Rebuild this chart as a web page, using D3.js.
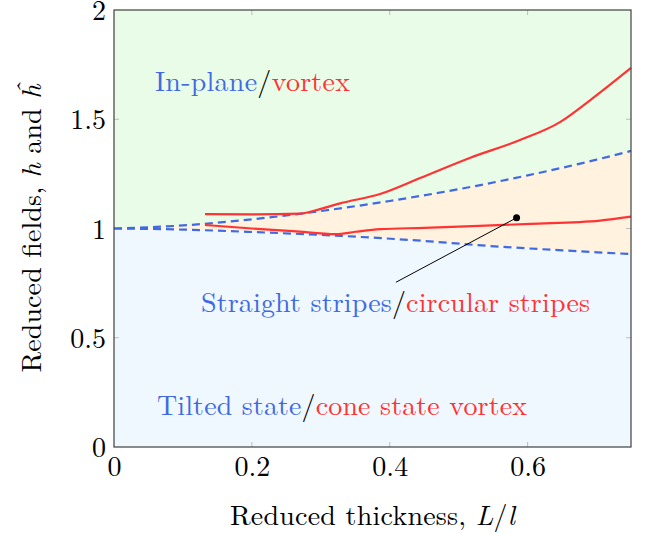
<!DOCTYPE html>
<html>
<head>
<meta charset="utf-8">
<script src="https://cdn.jsdelivr.net/npm/d3@7"></script>
<style>
  html, body { margin: 0; padding: 0; background: #fff; }
  svg text { font-family: "Latin Modern Roman", "CMU Serif", "Liberation Serif", "Times New Roman", serif; }
</style>
</head>
<body>
<svg id="chart" width="645" height="533"></svg>
<script>
// Phase boundaries in reduced thickness L/l vs reduced field h
const upperDashed = [[0, 1.0], [0.1, 1.014], [0.2, 1.042], [0.3, 1.08], [0.4, 1.126], [0.5, 1.18], [0.6, 1.243], [0.7, 1.315], [0.75, 1.355]];
const lowerDashed = [[0, 1.0], [0.1, 0.995], [0.2, 0.984], [0.33, 0.966], [0.45, 0.943], [0.54, 0.921], [0.65, 0.9], [0.75, 0.883]];
const upperRed = [[0.132, 1.066], [0.2, 1.065], [0.27, 1.068], [0.3, 1.09], [0.328, 1.115], [0.386, 1.158], [0.444, 1.231], [0.516, 1.323], [0.589, 1.405], [0.647, 1.487], [0.691, 1.588], [0.75, 1.735]];
const lowerRed = [[0.132, 1.016], [0.2, 1.0], [0.26, 0.988], [0.322, 0.974], [0.35, 0.985], [0.386, 0.997], [0.45, 1.003], [0.53, 1.012], [0.604, 1.021], [0.705, 1.036], [0.75, 1.054]];
const markerPoint = [0.584, 1.049];
const pointerEnd = [0.409, 0.754];

const xTicks = [0, 0.2, 0.4, 0.6];
const yTicks = [0, 0.5, 1, 1.5, 2];

const svg = d3.select("#chart");
const L = 114, R = 631, T = 10, B = 447;
const x = d3.scaleLinear().domain([0, 0.75]).range([L, R]);
const y = d3.scaleLinear().domain([0, 2]).range([B, T]);

const blue = "#4169e1", red = "#ff3333";

// Region fills
const interp = (pts, xv) => {
  for (let i = 1; i < pts.length; i++) {
    if (xv <= pts[i][0]) {
      const [x0, y0] = pts[i - 1], [x1, y1] = pts[i];
      return y0 + (y1 - y0) * (xv - x0) / (x1 - x0);
    }
  }
  return pts[pts.length - 1][1];
};
const xs = d3.range(0, 0.7501, 0.005);
const curve = d3.curveMonotoneX;

svg.append("path")
  .datum(upperDashed)
  .attr("d", d3.area().x(d => x(d[0])).y0(y(2)).y1(d => y(d[1])).curve(curve))
  .attr("fill", "#e8fce8");
svg.append("path")
  .datum(xs)
  .attr("d", d3.area().x(d => x(d)).y0(d => y(interp(lowerDashed, d))).y1(d => y(interp(upperDashed, d))).curve(curve))
  .attr("fill", "#fff2de");
svg.append("path")
  .datum(lowerDashed)
  .attr("d", d3.area().x(d => x(d[0])).y0(y(0)).y1(d => y(d[1])).curve(curve))
  .attr("fill", "#f0f8ff");

// Inner tick marks on all four sides
const tickCol = "#bdbdbd", tl = 5;
const g = svg.append("g");
[0.2, 0.4, 0.6].forEach(v => {
  g.append("line").attr("x1", x(v)).attr("x2", x(v)).attr("y1", B).attr("y2", B - tl).attr("stroke", tickCol);
  g.append("line").attr("x1", x(v)).attr("x2", x(v)).attr("y1", T).attr("y2", T + tl).attr("stroke", tickCol);
});
[0.5, 1, 1.5].forEach(v => {
  g.append("line").attr("x1", L).attr("x2", L + tl).attr("y1", y(v)).attr("y2", y(v)).attr("stroke", tickCol);
  g.append("line").attr("x1", R).attr("x2", R - tl).attr("y1", y(v)).attr("y2", y(v)).attr("stroke", tickCol);
});

// Boundary curves
const line = d3.line().x(d => x(d[0])).y(d => y(d[1])).curve(curve);
[upperDashed, lowerDashed].forEach(pts => {
  svg.append("path").attr("d", line(pts)).attr("fill", "none")
    .attr("stroke", blue).attr("stroke-width", 2.2).attr("stroke-dasharray", "8,5");
});
[upperRed, lowerRed].forEach(pts => {
  svg.append("path").attr("d", line(pts)).attr("fill", "none")
    .attr("stroke", red).attr("stroke-width", 2.2);
});

// Pointer to the marked point
svg.append("line")
  .attr("x1", x(pointerEnd[0])).attr("y1", y(pointerEnd[1]))
  .attr("x2", x(markerPoint[0])).attr("y2", y(markerPoint[1]))
  .attr("stroke", "#000").attr("stroke-width", 1);
svg.append("circle").attr("cx", x(markerPoint[0])).attr("cy", y(markerPoint[1])).attr("r", 3.5).attr("fill", "#000");

// Frame
svg.append("rect").attr("x", L).attr("y", T).attr("width", R - L).attr("height", B - T)
  .attr("fill", "none").attr("stroke", "#404040").attr("stroke-width", 1.2);

// Axes (labels only; tick marks drawn inside above)
const fs = 28;
const xAxis = d3.axisBottom(x).tickValues(xTicks).tickSize(0).tickPadding(9).tickFormat(d => d3.format("")(d));
svg.append("g").attr("transform", `translate(0,${B})`).call(xAxis)
  .call(s => s.select(".domain").remove())
  .selectAll("text").attr("font-size", fs).attr("fill", "#000").attr("font-family", null)
  .attr("dy", "0.71em");
const yAxis = d3.axisLeft(y).tickValues(yTicks).tickSize(0).tickPadding(8).tickFormat(d => d3.format("")(d));
svg.append("g").attr("transform", `translate(${L},0)`).call(yAxis)
  .call(s => s.select(".domain").remove())
  .selectAll("text").attr("font-size", fs).attr("fill", "#000").attr("font-family", null)
  .attr("dy", "0.34em");

// Axis titles
const xt = svg.append("text").attr("x", (L + R) / 2).attr("y", 525).attr("text-anchor", "middle")
  .attr("font-size", fs).attr("textLength", 285).attr("lengthAdjust", "spacing");
xt.append("tspan").text("Reduced thickness, ");
xt.append("tspan").attr("font-style", "italic").text("L");
xt.append("tspan").text("/");
xt.append("tspan").attr("font-style", "italic").text("l");

const yt = svg.append("text").attr("transform", `translate(41,${(T + B) / 2}) rotate(-90)`)
  .attr("text-anchor", "middle").attr("font-size", fs).attr("textLength", 288).attr("lengthAdjust", "spacing");
yt.append("tspan").text("Reduced fields, ");
yt.append("tspan").attr("font-style", "italic").text("h");
yt.append("tspan").text(" and ");
yt.append("tspan").attr("font-style", "italic").text("ĥ");

// Region labels
function regionLabel(xpx, ypx, width, a, b) {
  const t = svg.append("text").attr("x", xpx).attr("y", ypx).attr("font-size", fs)
    .attr("textLength", width).attr("lengthAdjust", "spacing");
  t.append("tspan").attr("fill", blue).text(a);
  t.append("tspan").attr("fill", "#000").text("/");
  t.append("tspan").attr("fill", red).text(b);
}
regionLabel(155, 91, 195, "In-plane", "vortex");
regionLabel(201, 312, 389, "Straight stripes", "circular stripes");
regionLabel(157, 415, 370, "Tilted state", "cone state vortex");
</script>
</body>
</html>
